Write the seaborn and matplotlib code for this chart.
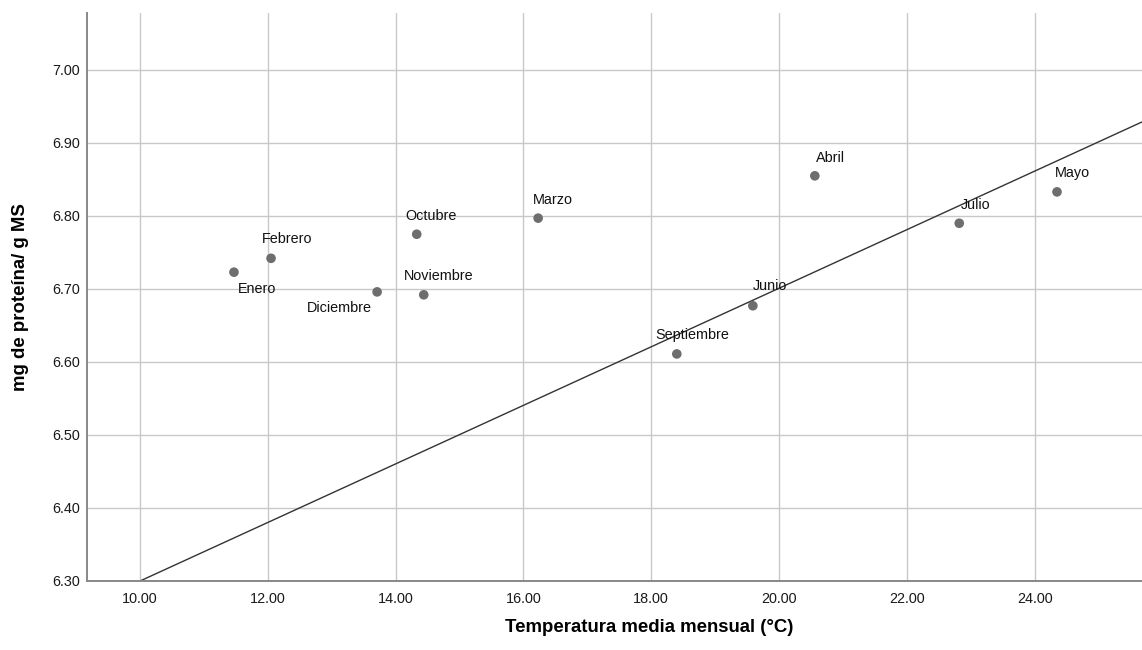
import matplotlib
matplotlib.use('Agg')
import matplotlib.pyplot as plt
import pandas as pd
import seaborn as sns

# Values
months = ['Enero', 'Febrero', 'Marzo', 'Abril', 'Mayo', 'Junio',
          'Julio', 'Septiembre', 'Octubre', 'Noviembre', 'Diciembre']
temperature = [11.47, 12.05, 16.23, 20.56, 24.35, 19.59,
               22.82, 18.40, 14.33, 14.44, 13.71]
protein = [6.723, 6.742, 6.797, 6.855, 6.833, 6.677,
           6.790, 6.611, 6.775, 6.692, 6.696]

# reference line: passes through (10.00, 6.30)
line_point = (10.0, 6.30)
line_slope = 0.0401

x_ticks = [10, 12, 14, 16, 18, 20, 22, 24]
y_ticks = [6.30, 6.40, 6.50, 6.60, 6.70, 6.80, 6.90, 7.00]

# label offsets in pixels (dx, dy, ha, va)
label_offsets = {
    'Enero': (4, -10, 'left', 'top'),
    'Diciembre': (-5, -9, 'right', 'top'),
    'Noviembre': (-20, 12, 'left', 'bottom'),
    'Septiembre': (-21, 12, 'left', 'bottom'),
    'Octubre': (-11, 11, 'left', 'bottom'),
    'Febrero': (-9, 12, 'left', 'bottom'),
    'Marzo': (-5, 11, 'left', 'bottom'),
    'Abril': (1, 11, 'left', 'bottom'),
    'Mayo': (-2, 12, 'left', 'bottom'),
    'Julio': (2, 11, 'left', 'bottom'),
    'Junio': (0, 13, 'left', 'bottom'),
}

df = pd.DataFrame({'mes': months, 'temp': temperature, 'prot': protein})

sns.set_style('whitegrid')
plt.rcParams['font.family'] = ['Liberation Sans', 'DejaVu Sans']

fig = plt.figure(figsize=(11.42, 6.5), dpi=100)
ax = fig.add_axes([87 / 1142, 1 - 581 / 650, 1 - 87 / 1142, (581 - 13) / 650])

ax.axline(line_point, slope=line_slope, color='#333333', linewidth=1.0, zorder=2)
sns.scatterplot(data=df, x='temp', y='prot', ax=ax, color='#6e6e6e',
                s=48, edgecolor='none', zorder=3)

px = 72 / 100
for m, t, p in zip(months, temperature, protein):
    dx, dy, ha, va = label_offsets[m]
    ax.annotate(m, (t, p), xytext=(dx * px, dy * px), textcoords='offset points',
                ha=ha, va=va, fontsize=10.4, color='#111111')

ax.set_xlim(9.17, 25.68)
ax.set_ylim(6.30, 7.078)
ax.set_xticks(x_ticks)
ax.set_yticks(y_ticks)
ax.set_xticklabels([f'{v:.2f}' for v in x_ticks])
ax.set_yticklabels([f'{v:.2f}' for v in y_ticks])
ax.tick_params(axis='both', length=0, labelsize=10.4, labelcolor='#1a1a1a')
ax.tick_params(axis='x', pad=8)
ax.tick_params(axis='y', pad=5)

ax.grid(True, color='#c8c8c8', linewidth=1.0)
for side in ['top', 'right']:
    ax.spines[side].set_visible(False)
for side in ['left', 'bottom']:
    ax.spines[side].set_color('#888888')
    ax.spines[side].set_linewidth(1.4)

ax.set_xlabel('Temperatura media mensual (°C)', fontsize=13.4,
              fontweight='bold', color='black')
ax.set_ylabel('mg de proteína/ g MS', fontsize=13.4,
              fontweight='bold', color='black')
ax.xaxis.set_label_coords(0.533, -0.081)
ax.xaxis.label.set_va('center')
ax.yaxis.set_label_coords(-0.0635, 0.5)
ax.yaxis.label.set_va('center')

fig.savefig('out.png', dpi=100)
